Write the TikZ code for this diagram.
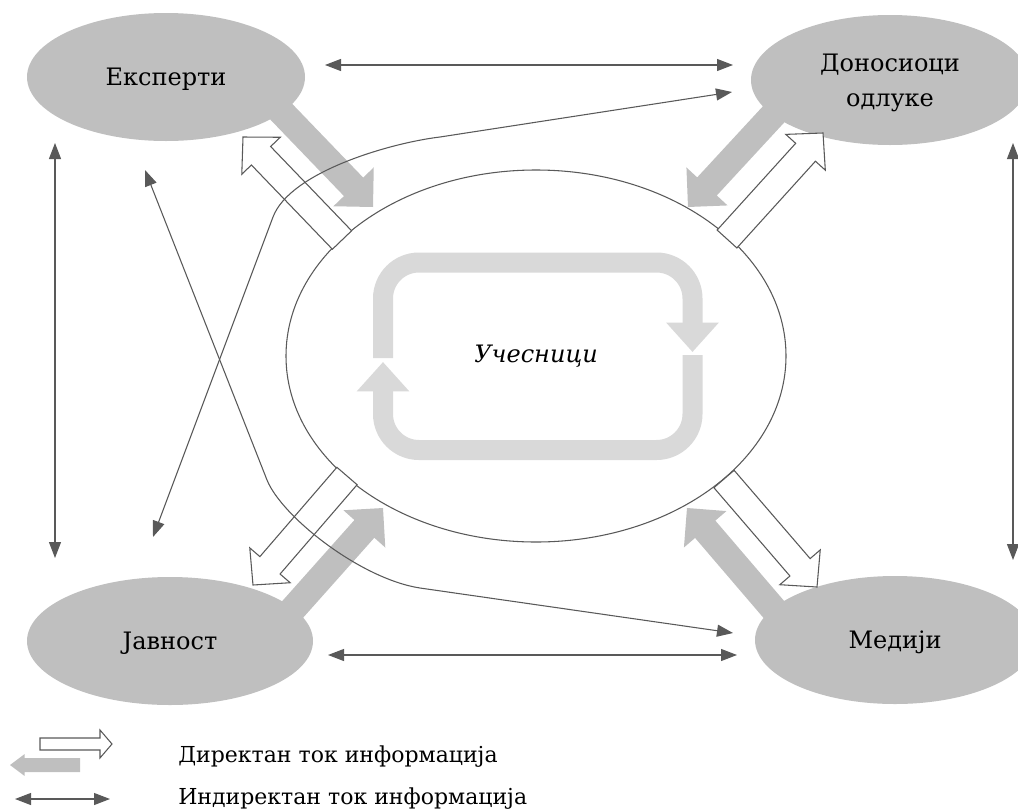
\documentclass[tikz,border=0pt]{standalone}
\usepackage{fontspec}
\setmainfont{DejaVu Serif}
\usetikzlibrary{calc, arrows.meta, shapes.geometric}
\definecolor{siva}{HTML}{BFBFBF}
\definecolor{svetla}{HTML}{D9D9D9}
\definecolor{tamna}{HTML}{595959}
\newcommand{\strel}[6]{%
  \coordinate (sb) at ($(#3)!#6!(#2)$);
  \path[#1] ($(#2)!#4!90:(#3)$) -- ($(sb)!#4!90:(#3)$) -- ($(sb)!#5!90:(#3)$) -- (#3)
    -- ($(sb)!#5!-90:(#3)$) -- ($(sb)!#4!-90:(#3)$) -- ($(#2)!#4!-90:(#3)$) -- cycle;}

\begin{document}
\begin{tikzpicture}[x=0.75pt, y=-0.75pt,
    every node/.style={font=\fontsize{18}{26}\selectfont},
    el/.style={ellipse, fill=siva, inner sep=0pt, align=center, text depth=0pt},
    pun/.style={fill=siva},
    pra/.style={fill=white, draw=tamna, line width=0.8pt},
    pet/.style={draw=svetla, line width=15pt, rounded corners=27pt, -{Triangle[width=38pt, length=22pt]}},
    tok/.style={{Triangle[length=12pt, width=9pt]}-{Triangle[length=12pt, width=9pt]}, draw=tamna, line width=0.8pt},
    leg/.style={anchor=base west, inner sep=0pt, font=\fontsize{16.5}{20}\selectfont}]
  \useasboundingbox (0,0) rectangle (1018,811);
  \node[el, minimum width=208.5pt, minimum height=96pt] (eks) at (166,77) {Експерти};
  \node[el, minimum width=208.5pt, minimum height=97.5pt] (don) at (890,80) {Доносиоци\\одлуке};
  \node[el, minimum width=214.5pt, minimum height=96pt] (jav) at (170,641) {Јавност};
  \node[el, minimum width=210pt, minimum height=96pt] (med) at (895,640) {Медији};
  \node[ellipse, draw=tamna, fill=white, line width=0.8pt, inner sep=0pt,
    minimum width=375pt, minimum height=279pt, font=\fontsize{18}{26}\selectfont\itshape] (uc) at (536,356) {Учесници};

  \coordinate (eks-a) at (270,100); \coordinate (eks-b) at (373,207);
  \coordinate (eks-c) at (342,240); \coordinate (eks-d) at (243,137);
  \coordinate (don-a) at (785,102); \coordinate (don-b) at (688,207);
  \coordinate (don-c) at (727,239); \coordinate (don-d) at (823,133);
  \coordinate (jav-a) at (285,618); \coordinate (jav-b) at (383,508);
  \coordinate (jav-c) at (347,476); \coordinate (jav-d) at (253,585);
  \coordinate (med-a) at (782,619); \coordinate (med-b) at (687,508);
  \coordinate (med-c) at (724,479); \coordinate (med-d) at (817,587);
  \foreach \x in {eks, don, jav, med} {
    \strel{pun}{\x-a}{\x-b}{10pt}{21pt}{21pt}
    \strel{pra}{\x-c}{\x-d}{10pt}{20pt}{19.5pt}
  }

  \draw[pet] (383,358) -- (383,262.5) -- (692.5,262.5) -- (692.5,352);
  \draw[pet] (692.5,355) -- (692.5,450) -- (383,450) -- (383,362);

  \coordinate (g1) at (325,65);  \coordinate (g2) at (733,65);
  \coordinate (d1) at (328,655); \coordinate (d2) at (737,655);
  \coordinate (l1) at (55,143);  \coordinate (l2) at (55,558);
  \coordinate (r1) at (1013,143); \coordinate (r2) at (1013,560);
  \coordinate (a1) at (145,170); \coordinate (a2) at (733,633);
  \coordinate (b1) at (153,537); \coordinate (b2) at (732,92);
  \foreach \x/\y in {g1/g2, d1/d2, l1/l2, r1/r2} \draw[tok] (\x) -- (\y);
  \draw[tok] (a1) -- (267,480) .. controls (282,517) and (361,579) .. (420,588) -- (a2);
  \draw[tok] (b1) -- (273,217) .. controls (290,172) and (390,143) .. (440,137) -- (b2);

  \coordinate (lp1) at (40,744); \coordinate (lp2) at (112,744);
  \coordinate (ls1) at (80,765); \coordinate (ls2) at (10,765);
  \coordinate (lt1) at (15,799); \coordinate (lt2) at (110,799);
  \strel{pra}{lp1}{lp2}{4.5pt}{10.5pt}{9pt}
  \strel{pun}{ls1}{ls2}{5.25pt}{8.25pt}{11pt}
  \draw[tok] (lt1) -- (lt2);
  \node[leg] (dir) at (178,762) {Директан ток информација};
  \node[leg] (ind) at (178,804) {Индиректан ток информација};
\end{tikzpicture}
\end{document}
